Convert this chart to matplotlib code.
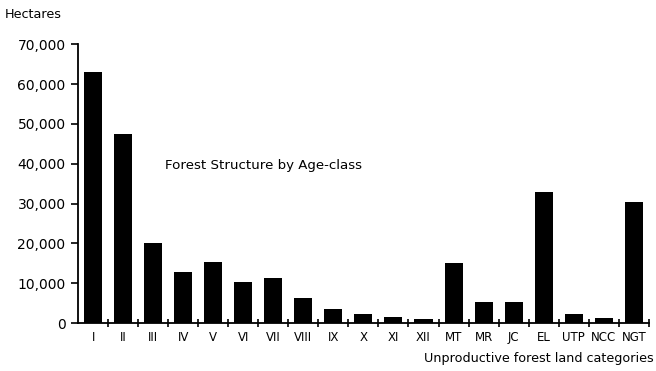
import matplotlib.pyplot as plt
import numpy as np

# 齢級別の森林構造
categories = ['I', 'II', 'III', 'IV', 'V', 'VI', 'VII', 'VIII', 'IX', 'X', 'XI', 'XII',
              'MT', 'MR', 'JC', 'EL', 'UTP', 'NCC', 'NGT']
hectares = [63000, 47500, 20000, 12800, 15300, 10300, 11300, 6300, 3500, 2200, 1500, 1000,
            15000, 5200, 5200, 33000, 2200, 1200, 30500]
yticks = [0, 10000, 20000, 30000, 40000, 50000, 60000, 70000]
ytick_labels = ['0', '10,000', '20,000', '30,000', '40,000', '50,000', '60,000', '70,000']

plt.rcParams['font.family'] = ['DejaVu Sans']

fig = plt.figure(figsize=(6.56, 3.71), dpi=100)
ax = fig.add_axes([0.119, 0.129, 0.870, 0.752])

x = np.arange(len(categories))
ax.bar(x, hectares, width=0.6, color='black')

ax.set_xlim(-0.5, len(categories) - 0.5)
ax.set_ylim(0, 70000)

# 目盛り
ax.set_xticks(x)
ax.set_xticklabels(categories, fontsize=8.5)
ax.set_xticks(np.arange(0.5, len(categories), 1), minor=True)
ax.tick_params(axis='x', which='major', length=0, pad=6)
ax.tick_params(axis='x', which='minor', length=6, direction='inout', width=1.2)
ax.set_yticks(yticks)
ax.set_yticklabels(ytick_labels, fontsize=10)
ax.tick_params(axis='y', length=5, width=1.2, pad=4)

for s in ['top', 'right']:
    ax.spines[s].set_visible(False)
for s in ['left', 'bottom']:
    ax.spines[s].set_linewidth(1.3)

# テキスト
fig.text(0.008, 0.962, 'Hectares', fontsize=9.2, va='center', ha='left')
fig.text(0.252, 0.555, 'Forest Structure by Age-class', fontsize=9.6, va='center', ha='left')
fig.text(0.997, 0.035, 'Unproductive forest land categories', fontsize=9.2, va='center', ha='right')

plt.savefig('out.png', dpi=100)
plt.close()
